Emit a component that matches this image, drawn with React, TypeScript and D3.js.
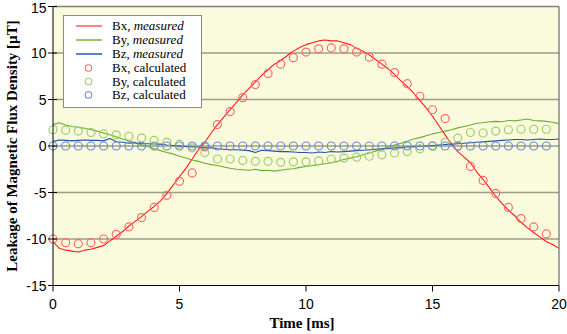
import React from "react";
import * as d3 from "d3";

const xTicks = [0, 5, 10, 15, 20];
const yTicks = [-15, -10, -5, 0, 5, 10, 15];

// measured series, sampled every 0.25 ms from 0 to 20
const measuredTime = d3.range(0, 81).map((i) => i * 0.25);
const bxMeasured = [
  -10.3, -11.0, -11.2, -11.3, -11.4, -11.2, -11.1, -10.9, -10.7, -10.2, -9.7, -9.2, -8.6, -8.1, -7.6, -7.0,
  -6.5, -5.9, -5.1, -4.2, -3.3, -2.4, -1.4, -0.4, 0.4, 1.4, 2.3, 3.1, 3.9, 4.7, 5.5, 6.2,
  6.9, 7.6, 8.2, 8.8, 9.2, 9.7, 10.2, 10.6, 10.9, 11.1, 11.3, 11.4, 11.3, 11.3, 11.1, 10.9,
  10.5, 10.2, 9.8, 9.3, 8.8, 8.3, 7.7, 7.0, 6.4, 5.7, 4.9, 4.1, 3.2, 2.2, 1.2, 0.2,
  -0.6, -1.2, -1.8, -2.8, -3.6, -4.5, -5.4, -6.2, -6.9, -7.5, -8.2, -8.8, -9.3, -9.8, -10.3, -10.6,
  -11.0,
];
const byMeasured = [
  2.3, 2.5, 2.25, 2.1, 2.0, 1.9, 1.75, 1.6, 1.4, 1.2, 1.0, 0.75, 0.55, 0.35, 0.1, -0.05,
  -0.3, -0.5, -0.7, -0.85, -1.1, -1.3, -1.5, -1.65, -1.85, -2.0, -2.1, -2.25, -2.4, -2.5, -2.55, -2.6,
  -2.5, -2.65, -2.6, -2.7, -2.6, -2.5, -2.45, -2.3, -2.2, -2.1, -2.0, -1.9, -1.8, -1.65, -1.45, -1.3,
  -1.15, -0.95, -0.75, -0.55, -0.35, -0.15, 0.1, 0.3, 0.5, 0.75, 0.9, 1.1, 1.3, 1.45, 1.6, 1.75,
  1.95, 2.1, 2.25, 2.45, 2.5, 2.6, 2.65, 2.6, 2.75, 2.7, 2.8, 2.9, 2.75, 2.7, 2.65, 2.55,
  2.4,
];
const bzMeasured = [
  0.5, 0.65, 0.6, 0.55, 0.6, 0.65, 0.6, 0.6, 0.55, 0.8, 0.45, 0.4, 0.3, 0.35, 0.25, 0.25,
  0.2, 0.2, 0.1, 0.05, 0.0, -0.05, -0.1, -0.1, -0.2, -0.2, -0.3, -0.35, -0.4, -0.4, -0.45, -0.5,
  -0.7, -0.45, -0.5, -0.55, -0.6, -0.6, -0.65, -0.7, -0.7, -0.75, -0.65, -0.7, -0.6, -0.65, -0.6, -0.55,
  -0.5, -0.45, -0.4, -0.35, -0.3, -0.3, -0.2, -0.2, -0.1, -0.1, 0.0, 0.0, 0.05, 0.1, 0.15, 0.2,
  0.25, 0.3, 0.35, 0.4, 0.45, 0.5, 0.55, 0.6, 0.65, 0.7, 0.7, 0.65, 0.7, 0.75, 0.7, 0.7,
  0.75,
];

// calculated series, every 0.5 ms from 0 to 19.5
const calcTime = d3.range(0, 40).map((i) => i * 0.5);
const bxCalc = [
  -10.0, -10.4, -10.5, -10.4, -10.0, -9.5, -8.7, -7.7, -6.6, -5.3, -3.8, -2.9, -0.1, 2.3, 3.7, 5.2,
  6.6, 7.8, 8.8, 9.5, 10.1, 10.45, 10.55, 10.45, 10.1, 9.55, 8.8, 7.9, 6.7, 5.35, 3.9, 2.95,
  0.0, -2.2, -3.7, -5.1, -6.6, -7.8, -8.7, -9.45,
];
const byCalc = [
  1.75, 1.7, 1.6, 1.45, 1.3, 1.2, 1.05, 0.85, 0.6, 0.4, 0.2, -0.2, -0.7, -1.4, -1.4, -1.55,
  -1.65, -1.65, -1.75, -1.7, -1.7, -1.6, -1.4, -1.3, -1.2, -1.1, -0.95, -0.75, -0.6, -0.3, 0.0, 0.4,
  0.85, 1.45, 1.4, 1.6, 1.75, 1.8, 1.8, 1.8,
];
const bzCalc = [
  0, 0, 0, 0, 0, 0, 0, 0, 0, 0, 0, 0, 0, 0, 0, 0,
  0, 0, 0, 0, 0, 0, 0, 0, 0, 0, 0, 0, 0, 0, 0, 0,
  0, 0, 0, 0, 0, 0, 0, 0,
];

const legendLabels = ["Bx", "By", "Bz"];

const W = 567;
const H = 334;
const L = 53;
const R = 559;
const T = 6.5;
const B = 285.5;

const lineColors = ["#ff1a1a", "#66b030", "#2450a8"];
const legendLineColors = ["#ff3030", "#9acb62", "#5b82c8"];
const circleColors = ["#ff6a6a", "#9ccf6c", "#6a8fd0"];

export default function App() {
  const x = d3.scaleLinear().domain([0, 20]).range([L, R]);
  const y = d3.scaleLinear().domain([-15, 15]).range([B, T]);
  const line = d3
    .line<[number, number]>()
    .x((d) => x(d[0]))
    .y((d) => y(d[1]));
  const measured = [bxMeasured, byMeasured, bzMeasured];
  const calc = [bxCalc, byCalc, bzCalc];
  const serif = "'Liberation Serif', 'Times New Roman', serif";
  const sans = "'Liberation Sans', Arial, sans-serif";

  const legendRows = [26, 40, 54, 68, 81.5, 95];

  return (
    <svg
      width={W}
      height={H}
      style={{ position: "absolute", left: 0, top: 0, background: "#fff" }}
    >
      <defs>
        <clipPath id="plot">
          <rect x={L} y={T} width={R - L} height={B - T} />
        </clipPath>
      </defs>
      <rect x={L} y={T} width={R - L} height={B - T} fill="#fafadc" />
      {yTicks
        .filter((v) => v > -15 && v < 15)
        .map((v) => (
          <line
            key={"g" + v}
            x1={L}
            x2={R}
            y1={y(v)}
            y2={y(v)}
            stroke="#9e9d88"
            strokeWidth={1.3}
          />
        ))}
      {/* top & right borders */}
      <line x1={L} x2={R} y1={T} y2={T} stroke="#808080" strokeWidth={1.5} />
      <line x1={R} x2={R} y1={T} y2={B} stroke="#505050" strokeWidth={1} />

      <g clipPath="url(#plot)">
        {measured.map((s, k) => (
          <path
            key={"m" + k}
            d={line(measuredTime.map((t, i) => [t, s[i]] as [number, number])) || ""}
            fill="none"
            stroke={lineColors[k]}
            strokeWidth={1.1}
            strokeLinejoin="round"
          />
        ))}
      </g>
      {calc.map((s, k) => (
        <g key={"c" + k}>
          {calcTime.map((t, i) => (
            <circle
              key={i}
              cx={x(t)}
              cy={y(s[i])}
              r={4}
              fill="none"
              stroke={circleColors[k]}
              strokeWidth={1.2}
            />
          ))}
        </g>
      ))}

      {/* axes */}
      <line x1={L} x2={L} y1={T} y2={B} stroke="#000" strokeWidth={1} />
      <line x1={L} x2={R} y1={B} y2={B} stroke="#000" strokeWidth={1} />
      {yTicks.map((v) => (
        <g key={"yt" + v}>
          <line x1={L - 5} x2={L + 4} y1={y(v)} y2={y(v)} stroke="#000" />
          <text
            x={L - 6.5}
            y={Math.max(y(v), 8)}
            dy="0.36em"
            textAnchor="end"
            fontFamily={sans}
            fontSize={14}
            fill="#000"
          >
            {v}
          </text>
        </g>
      ))}
      {xTicks.map((v) => (
        <g key={"xt" + v}>
          <line x1={x(v)} x2={x(v)} y1={B} y2={B + 6} stroke="#000" />
          <text
            x={x(v)}
            y={B + 23.5}
            textAnchor="middle"
            fontFamily={sans}
            fontSize={14}
            fill="#000"
          >
            {v}
          </text>
        </g>
      ))}
      <text
        x={302}
        y={328}
        textAnchor="middle"
        fontFamily={serif}
        fontWeight="bold"
        fontSize={15}
      >
        Time [ms]
      </text>
      <text
        transform={`translate(16.5,${(T + B) / 2}) rotate(-90)`}
        textAnchor="middle"
        fontFamily={serif}
        fontWeight="bold"
        fontSize={15}
      >
        Leakage of Magnetic Flux Density [µT]
      </text>

      {/* legend */}
      <rect x={63.5} y={15.5} width={138} height={92} fill="#fff" stroke="#8a8a8a" strokeWidth={1} />
      {legendLabels.map((lab, k) => (
        <g key={"lm" + k}>
          <line
            x1={76}
            x2={102}
            y1={legendRows[k]}
            y2={legendRows[k]}
            stroke={legendLineColors[k]}
            strokeWidth={k === 0 ? 1.2 : 2}
          />
          <text x={112} y={legendRows[k]} dy="0.33em" fontFamily={serif} fontSize={13}>
            {lab}, <tspan fontStyle="italic">measured</tspan>
          </text>
        </g>
      ))}
      {legendLabels.map((lab, k) => (
        <g key={"lc" + k}>
          <circle
            cx={88.5}
            cy={legendRows[k + 3]}
            r={3.3}
            fill="none"
            stroke={circleColors[k]}
            strokeWidth={1.1}
          />
          <text x={112} y={legendRows[k + 3]} dy="0.33em" fontFamily={serif} fontSize={13}>
            {lab}, calculated
          </text>
        </g>
      ))}
    </svg>
  );
}
